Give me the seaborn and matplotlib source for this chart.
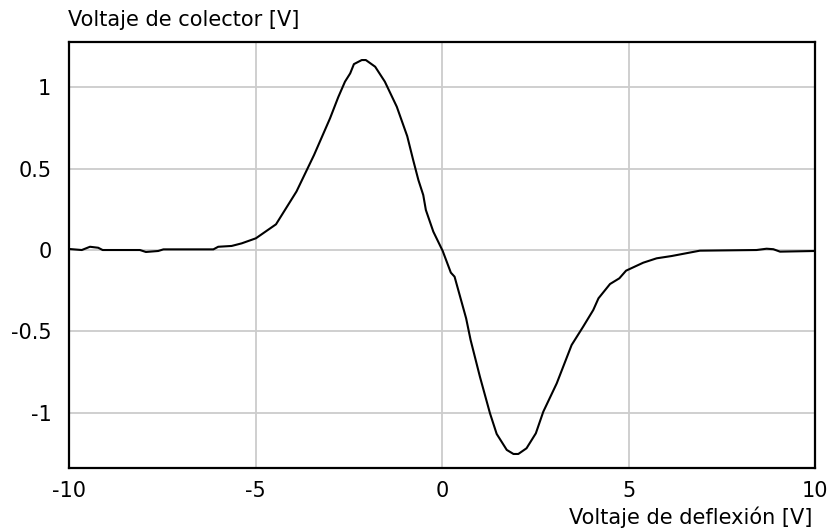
import numpy as np
import pandas as pd
import matplotlib
matplotlib.use("Agg")
import matplotlib.pyplot as plt
import seaborn as sns

# deflection voltage [V] and collector voltage [V]
deflexion = [-9.99, -9.67, -9.45, -9.23, -9.11, -8.11, -7.95, -7.62, -7.48, -6.14,
             -6.01, -5.65, -5.38, -5.0, -4.46, -3.91, -3.44, -3.01, -2.79, -2.61,
             -2.47, -2.37, -2.16, -2.05, -1.80, -1.54, -1.22, -0.94, -0.78, -0.64,
             -0.51, -0.44, -0.24, 0.01, 0.23, 0.33, 0.64, 0.76, 1.01, 1.28,
             1.46, 1.73, 1.91, 2.04, 2.26, 2.51, 2.71, 3.07, 3.47, 3.78,
             4.05, 4.19, 4.50, 4.75, 4.93, 5.39, 5.75, 6.15, 6.91, 8.43,
             8.70, 8.88, 9.06, 9.99]
colector = [0.006, 0.0, 0.02, 0.014, 0.0, 0.0, -0.012, -0.006, 0.004, 0.004,
            0.02, 0.025, 0.041, 0.072, 0.158, 0.36, 0.584, 0.81, 0.94, 1.035,
            1.086, 1.143, 1.168, 1.168, 1.127, 1.035, 0.881, 0.70, 0.553, 0.43,
            0.338, 0.246, 0.113, -0.005, -0.139, -0.164, -0.42, -0.553, -0.779, -1.004,
            -1.131, -1.229, -1.254, -1.254, -1.219, -1.127, -0.994, -0.82, -0.584, -0.471,
            -0.369, -0.297, -0.209, -0.174, -0.127, -0.078, -0.051, -0.037, -0.004, 0.0,
            0.008, 0.005, -0.01, -0.006]

df = pd.DataFrame({"deflexion": deflexion, "colector": colector})

sns.set_style("white")
plt.rcParams["font.family"] = ["DejaVu Sans"]
plt.rcParams["text.color"] = "black"

fig = plt.figure(figsize=(8.3, 5.31), dpi=100)
ax = fig.add_axes([0.0837, 0.1181, 0.8983, 0.8022])

sns.lineplot(data=df, x="deflexion", y="colector", color="black",
             linewidth=1.5, sort=False, ax=ax)

ax.set_xlim(-10, 10)
ax.set_ylim(-1.342, 1.277)
ax.set_xticks([-10, -5, 0, 5, 10])
ax.set_xticklabels(["-10", "-5", "0", "5", "10"])
ax.set_yticks([-1, -0.5, 0, 0.5, 1])
ax.set_yticklabels(["-1", "-0.5", "0", "0.5", "1"])
ax.tick_params(axis="both", length=0, labelsize=15, colors="black")
ax.tick_params(axis="x", pad=9)
ax.tick_params(axis="y", pad=13)
ax.grid(True, color="#cccccc", linewidth=1.3)
ax.set_axisbelow(True)
for side in ["left", "right", "top", "bottom"]:
    ax.spines[side].set_visible(True)
    ax.spines[side].set_color("black")
    ax.spines[side].set_linewidth(1.6)

ax.set_xlabel("")
ax.set_ylabel("")
fig.text(0.0815, 0.962, "Voltaje de colector [V]", ha="left", va="center", fontsize=15)
fig.text(0.979, 0.025, "Voltaje de deflexión [V]", ha="right", va="center", fontsize=15)

fig.savefig("out.png", dpi=100)
